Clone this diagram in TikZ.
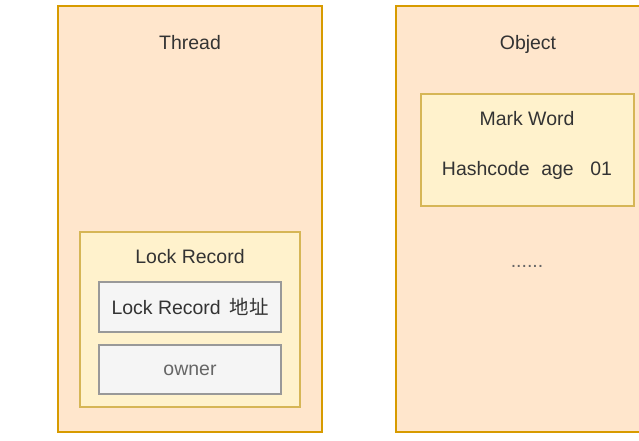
\documentclass[tikz,border=0pt]{standalone}
\usepackage{fontspec}
\setmainfont{Liberation Sans}
\newfontfamily\cjk{Noto Sans CJK SC}
\definecolor{outerfill}{HTML}{FFE6CC}
\definecolor{outerline}{HTML}{D79B00}
\definecolor{innerfill}{HTML}{FFF2CC}
\definecolor{innerline}{HTML}{D6B656}
\definecolor{cellfill}{HTML}{F5F5F5}
\definecolor{cellline}{HTML}{999999}
\definecolor{txt}{HTML}{333333}
\definecolor{softtxt}{HTML}{666666}
\tikzset{
  panel/.style={draw=outerline, fill=outerfill, line width=1pt, minimum width=198pt, minimum height=319.5pt, inner sep=0pt},
  group/.style={draw=innerline, fill=innerfill, line width=0.9pt, inner sep=0pt},
  cell/.style={draw=cellline, fill=cellfill, line width=1pt, minimum width=136.5pt, inner sep=0pt, text=txt, font=\fontsize{14.6}{16}\selectfont},
  lbl/.style={text=txt, font=\fontsize{14.6}{16}\selectfont, inner sep=0pt, text height=1.2ex, text depth=0.2ex}
}
\begin{document}
\begin{tikzpicture}[x=0.75pt, y=-0.75pt]
\clip (0,0) rectangle (639,440);
\fill[white] (0,0) rectangle (639,440);
% panels
\node[panel] (thread) at (190,219) {};
\node[panel] (object) at (528,219) {};
\node[lbl] (threadlbl) at (190,46) {Thread};
\node[lbl] (objectlbl) at (528,46) {Object};
% lock record group
\node[group, minimum width=165pt, minimum height=131.25pt] (lockgrp) at (190,319.5) {};
\node[lbl] (locklbl) at (190,260) {Lock Record};
\node[cell, minimum height=37.5pt] (addr) at (190,307) {Lock Record\hspace{0.45em}{\cjk 地址}};
\node[cell, minimum height=36.75pt, text=softtxt] (owner) at (190,369.5) {};
\node[lbl, text=softtxt] (ownerlbl) at (190,372) {owner};
% mark word
\node[group, minimum width=159.75pt, minimum height=84pt] (markgrp) at (527.5,150) {};
\node[lbl] (marklbl) at (527,122) {Mark Word};
\node[lbl] (hash) at (527,172) {Hashcode\hspace{0.6em}age\hspace{0.85em}01};
\node[lbl, text=softtxt] (dots) at (527,264) {......};
\end{tikzpicture}
\end{document}
